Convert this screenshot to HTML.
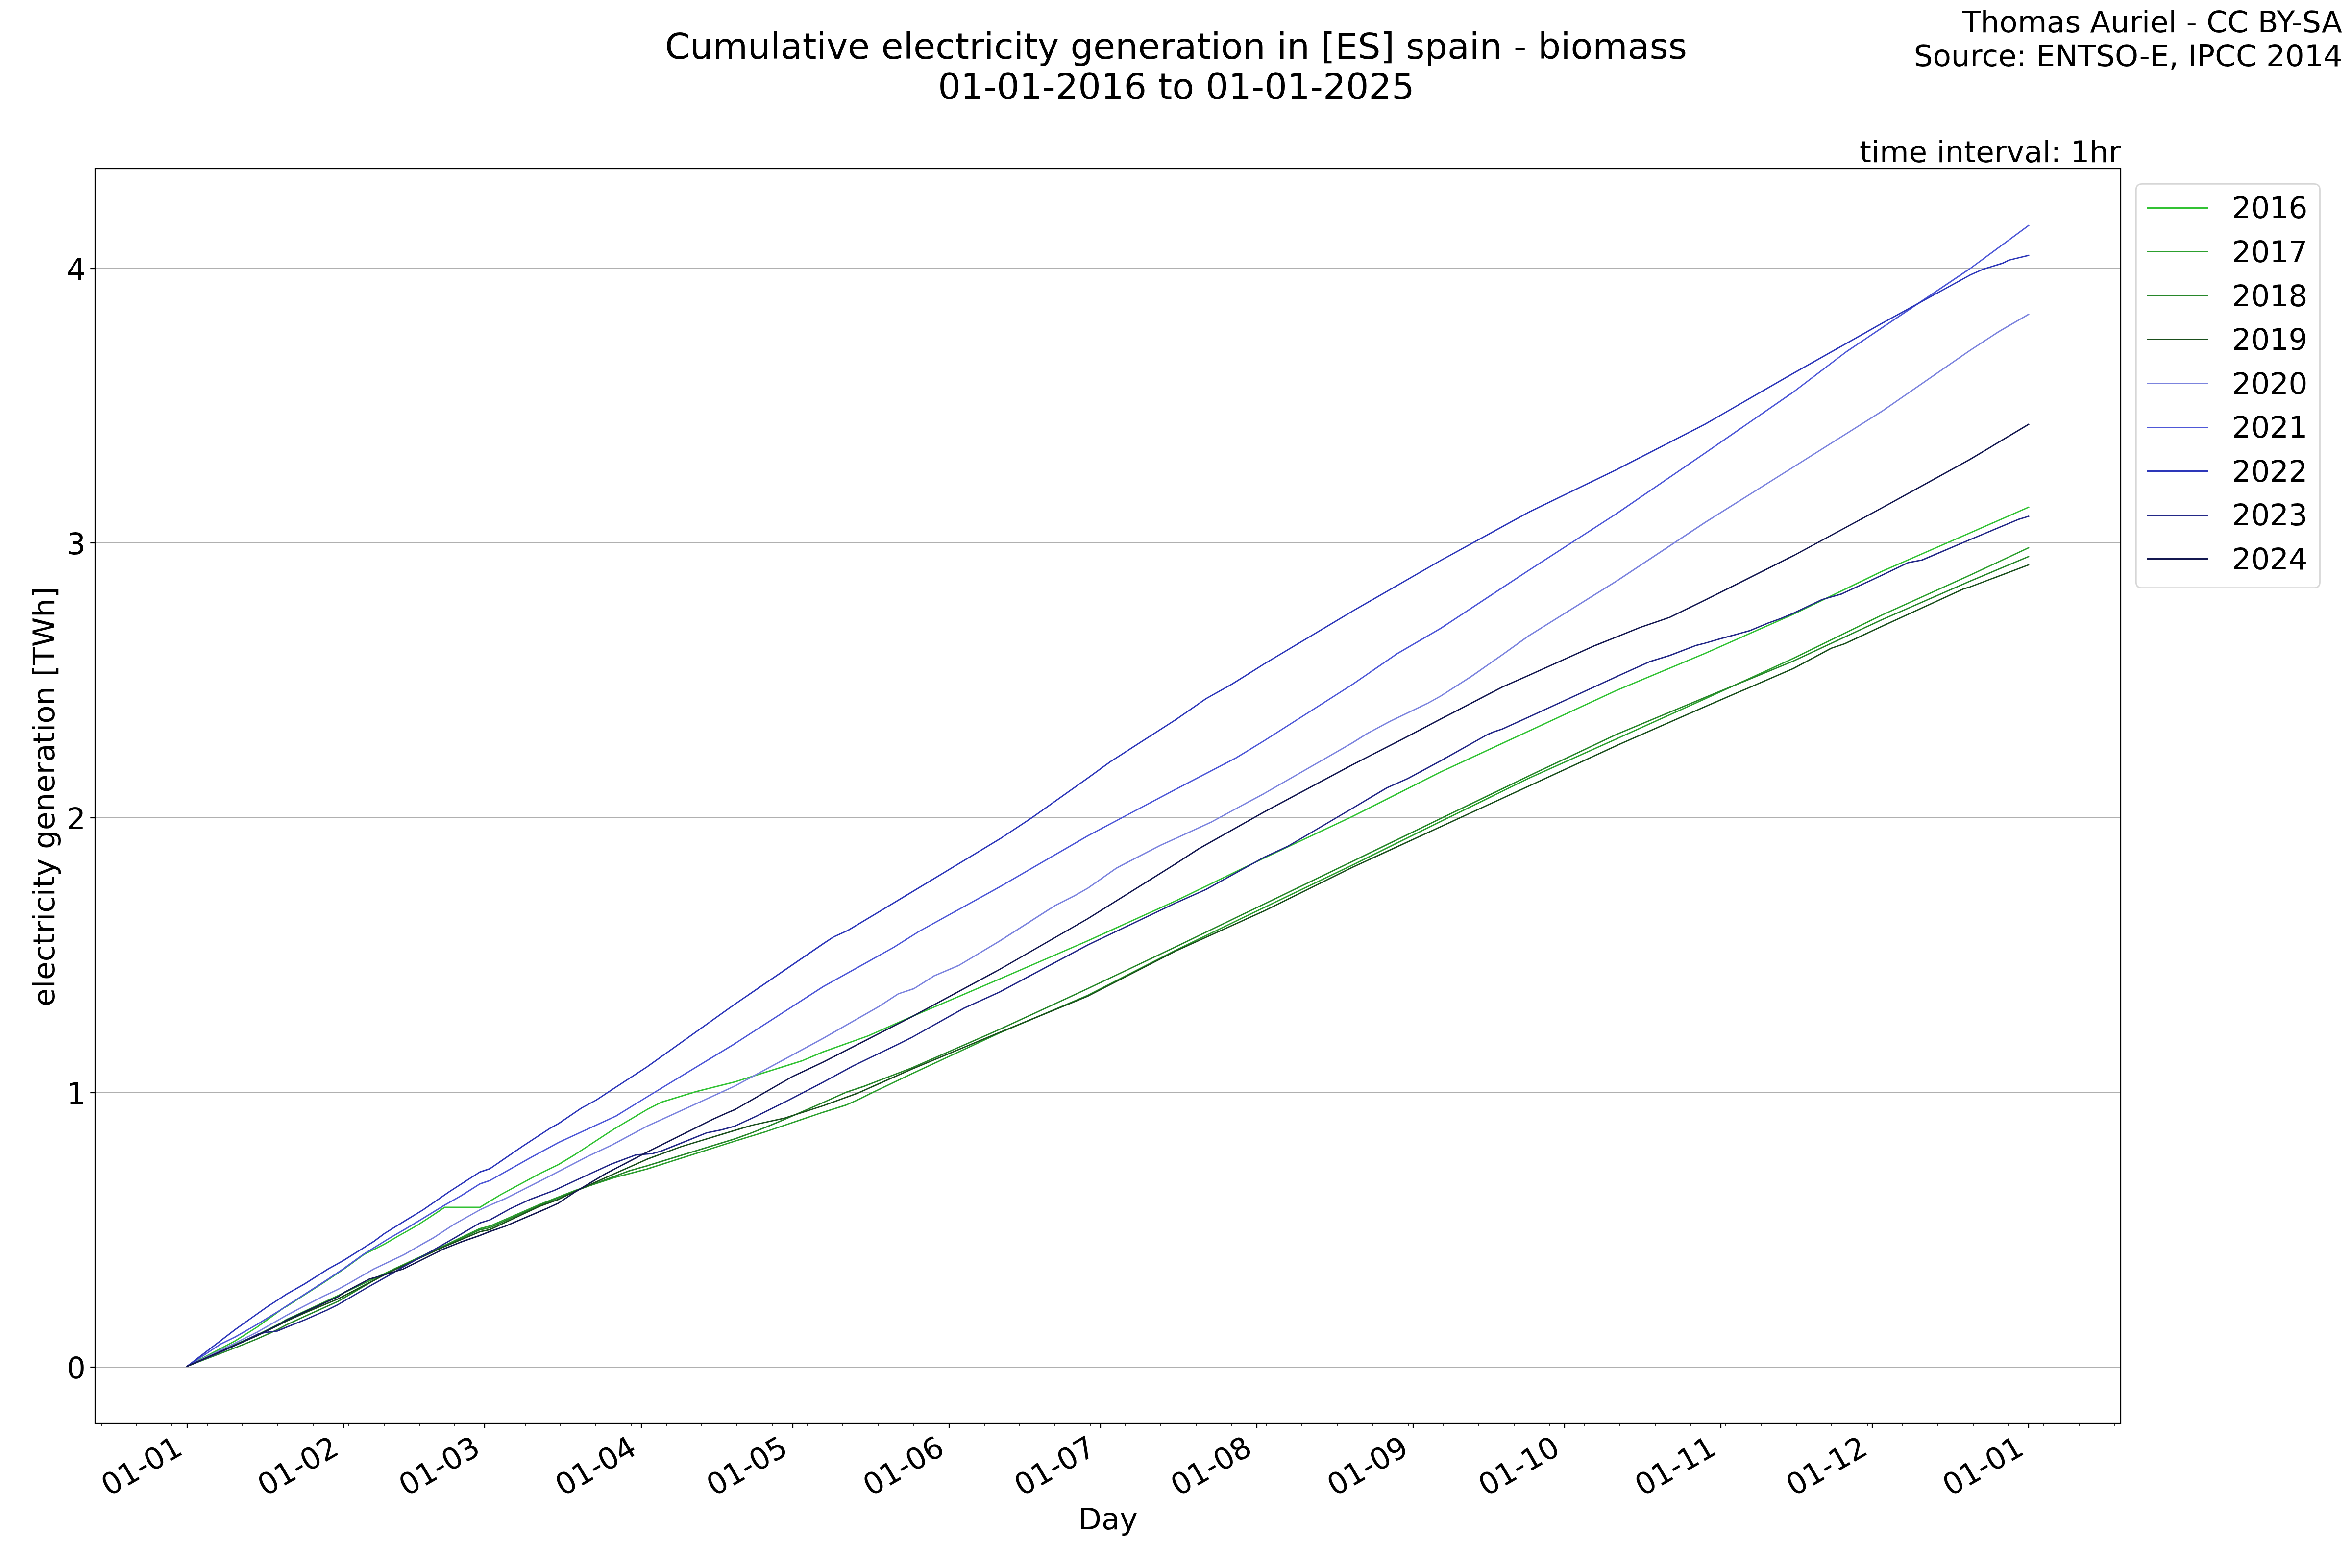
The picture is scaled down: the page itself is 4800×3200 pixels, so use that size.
<!DOCTYPE html>
<html lang="en"><head><meta charset="utf-8"><title>Cumulative electricity generation in [ES] spain - biomass</title>
<style>html,body{margin:0;padding:0;background:#fff;width:4800px;height:3200px;overflow:hidden}svg{display:block}text{font-family:"DejaVu Sans", "Liberation Sans", sans-serif;fill:#000}</style>
</head><body>
<svg width="4800" height="3200" viewBox="0 0 4800 3200">
<rect x="0" y="0" width="4800" height="3200" fill="#ffffff"/>
<g stroke="#b0b0b0" stroke-width="2.222">
<line x1="194.00" x2="4328.00" y1="2790.00" y2="2790.00"/>
<line x1="194.00" x2="4328.00" y1="2230.00" y2="2230.00"/>
<line x1="194.00" x2="4328.00" y1="1669.00" y2="1669.00"/>
<line x1="194.00" x2="4328.00" y1="1108.00" y2="1108.00"/>
<line x1="194.00" x2="4328.00" y1="548.00" y2="548.00"/>
</g>
<g fill="none" stroke-width="2.78" stroke-linejoin="round" stroke-linecap="square">
<path d="M381.9 2788.3 L480.0 2736.5 L524.6 2708.4 L560.4 2682.5 L578.2 2669.6 L585.0 2666.0 L613.9 2647.3 L655.0 2621.0 L670.0 2611.3 L700.0 2591.0 L742.1 2560.6 L784.2 2539.2 L814.8 2521.4 L827.6 2514.4 L853.1 2499.7 L878.6 2483.1 L907.3 2464.0 L979.3 2464.0 L1000.0 2451.2 L1021.2 2438.4 L1100.8 2395.5 L1140.0 2376.5 L1174.3 2355.7 L1253.9 2303.7 L1320.0 2264.6 L1350.6 2249.1 L1421.0 2227.7 L1500.0 2207.8 L1638.4 2164.3 L1680.0 2146.6 L1771.8 2114.0 L1860.0 2075.1 L2040.0 1998.0 L2220.0 1920.0 L2400.0 1838.3 L2580.0 1750.9 L2760.0 1666.3 L2940.0 1575.6 L3120.0 1491.9 L3300.0 1408.6 L3480.0 1333.2 L3660.0 1253.5 L3840.0 1166.3 L4020.0 1087.8 L4140.0 1035.1" stroke="#32c234"/>
<path d="M381.9 2788.3 L480.0 2743.7 L524.6 2724.5 L569.3 2702.1 L585.0 2692.8 L622.9 2675.4 L690.0 2644.1 L780.0 2601.5 L805.9 2589.0 L904.1 2543.3 L979.3 2507.3 L1000.0 2502.2 L1100.8 2458.3 L1174.3 2429.2 L1253.9 2403.2 L1320.0 2385.8 L1500.0 2328.7 L1564.9 2308.8 L1680.0 2269.8 L1725.9 2255.4 L1753.5 2243.2 L1781.0 2229.4 L1860.0 2191.7 L2040.0 2108.0 L2220.0 2031.3 L2400.0 1938.9 L2580.0 1851.9 L2760.0 1765.4 L2940.0 1676.6 L3120.0 1588.2 L3300.0 1507.4 L3480.0 1426.0 L3660.0 1343.5 L3840.0 1255.5 L4020.0 1174.1 L4140.0 1117.8" stroke="#2ca02e"/>
<path d="M381.9 2788.3 L480.0 2750.5 L524.6 2732.5 L551.4 2720.4 L565.7 2713.8 L585.0 2703.5 L622.9 2686.1 L690.0 2655.7 L780.0 2603.0 L805.9 2590.0 L904.1 2544.3 L979.3 2509.8 L1000.0 2505.5 L1100.8 2460.0 L1174.3 2430.5 L1284.5 2389.4 L1320.0 2379.4 L1500.0 2324.1 L1534.3 2311.8 L1564.9 2299.6 L1601.6 2284.3 L1680.0 2250.1 L1725.9 2229.4 L1762.7 2217.1 L1860.0 2179.8 L2040.0 2100.8 L2220.0 2017.6 L2400.0 1932.1 L2580.0 1844.9 L2760.0 1757.9 L2940.0 1670.5 L3120.0 1583.6 L3300.0 1498.3 L3480.0 1423.3 L3660.0 1349.0 L3840.0 1265.0 L4020.0 1186.3 L4140.0 1135.8" stroke="#27872a"/>
<path d="M381.9 2788.3 L480.0 2745.5 L524.6 2726.0 L569.3 2704.0 L585.0 2695.9 L622.9 2678.9 L690.0 2650.8 L780.0 2604.0 L805.9 2591.0 L904.1 2545.3 L979.3 2513.7 L1000.0 2509.3 L1100.8 2462.0 L1140.0 2447.6 L1174.3 2431.0 L1320.0 2365.9 L1390.4 2340.0 L1491.4 2309.4 L1534.3 2296.5 L1601.6 2281.8 L1680.0 2256.5 L1750.4 2230.9 L1860.0 2182.2 L2040.0 2107.0 L2220.0 2032.9 L2400.0 1940.4 L2580.0 1859.0 L2760.0 1770.0 L2940.0 1687.3 L3120.0 1604.3 L3300.0 1521.2 L3480.0 1442.0 L3660.0 1364.3 L3737.1 1323.0 L3764.7 1313.8 L3840.0 1278.5 L4006.8 1201.9 L4020.0 1198.0 L4140.0 1152.7" stroke="#1b4f1d"/>
<path d="M381.9 2788.3 L480.0 2741.0 L524.6 2718.7 L569.3 2693.2 L585.0 2684.3 L613.9 2669.1 L658.6 2645.9 L690.0 2631.2 L713.3 2618.4 L762.5 2590.0 L825.0 2560.3 L863.3 2538.0 L886.2 2525.2 L927.0 2498.4 L979.3 2469.1 L1000.0 2459.5 L1033.5 2445.1 L1113.1 2404.7 L1198.8 2360.3 L1247.8 2337.3 L1320.0 2298.6 L1500.0 2216.3 L1680.0 2119.0 L1793.3 2054.3 L1833.1 2028.3 L1865.2 2017.6 L1906.5 1991.5 L1957.0 1970.1 L2040.0 1920.5 L2153.3 1848.0 L2193.0 1828.0 L2220.0 1812.6 L2278.8 1771.4 L2367.5 1725.5 L2400.0 1710.8 L2473.5 1676.9 L2543.9 1638.7 L2580.0 1619.4 L2760.0 1516.0 L2790.6 1496.8 L2836.5 1472.3 L2913.0 1435.6 L2940.0 1420.6 L3004.9 1379.0 L3066.1 1336.1 L3120.0 1297.5 L3300.0 1185.3 L3480.0 1066.0 L3660.0 953.1 L3840.0 839.8 L4020.0 715.3 L4078.8 677.0 L4140.0 641.5" stroke="#7c84de"/>
<path d="M381.9 2788.3 L449.7 2743.3 L480.0 2728.5 L524.6 2703.0 L569.3 2675.4 L585.0 2665.1 L613.9 2646.3 L655.0 2620.0 L670.0 2610.2 L700.0 2590.0 L742.1 2559.6 L794.4 2527.1 L827.6 2508.0 L858.2 2489.5 L907.3 2459.5 L939.8 2441.0 L960.2 2428.3 L979.3 2416.1 L1000.0 2409.1 L1082.4 2362.8 L1140.6 2331.2 L1256.9 2277.7 L1320.0 2238.9 L1500.0 2129.7 L1680.0 2013.5 L1823.9 1933.4 L1875.9 1900.6 L2040.0 1810.0 L2220.0 1705.7 L2400.0 1610.4 L2522.4 1546.8 L2580.0 1511.6 L2760.0 1396.9 L2851.8 1333.7 L2940.0 1282.5 L3120.0 1163.8 L3300.0 1047.6 L3480.0 924.4 L3660.0 800.0 L3767.8 718.0 L3840.0 669.5 L4020.0 548.5 L4140.0 460.3" stroke="#4e58d7"/>
<path d="M381.9 2788.3 L480.0 2713.3 L524.6 2681.6 L546.1 2666.4 L569.3 2651.3 L585.0 2641.0 L622.0 2620.0 L670.0 2589.5 L700.0 2573.0 L763.8 2532.9 L784.2 2517.6 L827.6 2490.8 L863.3 2469.1 L916.8 2432.1 L979.3 2391.9 L999.8 2385.1 L1067.1 2338.9 L1122.2 2302.8 L1140.0 2293.0 L1186.5 2261.4 L1217.1 2244.9 L1241.6 2228.7 L1320.0 2177.6 L1500.0 2049.2 L1680.0 1926.0 L1701.4 1911.9 L1730.5 1898.8 L1860.0 1821.0 L2040.0 1712.3 L2105.8 1668.9 L2220.0 1587.8 L2266.5 1554.1 L2400.0 1468.3 L2461.2 1425.9 L2513.3 1396.8 L2580.0 1354.9 L2760.0 1247.4 L2940.0 1143.9 L3120.0 1045.2 L3300.0 957.9 L3480.0 865.5 L3660.0 761.7 L3840.0 660.3 L4020.0 561.6 L4048.2 549.1 L4088.0 536.8 L4099.6 531.0 L4140.0 521.2" stroke="#2d37b9"/>
<path d="M381.9 2788.3 L441.7 2763.0 L480.0 2745.8 L528.2 2721.8 L542.5 2719.1 L565.7 2716.4 L585.0 2708.4 L622.9 2693.2 L667.5 2673.6 L690.0 2662.4 L746.9 2629.1 L795.9 2601.5 L814.8 2590.0 L878.6 2554.5 L929.6 2525.2 L979.3 2495.9 L1000.0 2489.5 L1042.7 2465.9 L1082.4 2447.6 L1131.4 2429.2 L1174.3 2409.3 L1247.8 2375.6 L1296.7 2357.2 L1320.0 2355.0 L1332.2 2354.1 L1350.6 2348.6 L1411.8 2324.1 L1442.4 2311.8 L1473.1 2305.7 L1500.0 2298.1 L1546.5 2276.6 L1607.8 2246.0 L1680.0 2208.6 L1741.2 2175.2 L1833.1 2131.1 L1860.0 2117.6 L1967.8 2057.3 L2040.0 2024.6 L2220.0 1928.5 L2400.0 1842.5 L2461.2 1815.2 L2580.0 1749.4 L2629.6 1726.4 L2760.0 1649.6 L2830.4 1607.8 L2873.3 1588.8 L2940.0 1552.7 L3035.5 1499.1 L3047.8 1493.9 L3066.1 1487.8 L3120.0 1463.3 L3300.0 1380.4 L3368.0 1349.8 L3407.8 1337.6 L3459.8 1317.7 L3480.0 1312.5 L3510.6 1303.7 L3541.2 1295.4 L3571.8 1286.8 L3608.6 1271.5 L3633.1 1262.7 L3660.0 1251.6 L3718.8 1223.5 L3758.6 1212.1 L3840.0 1174.3 L3893.6 1148.4 L3922.7 1142.9 L4020.0 1101.5 L4118.6 1060.2 L4130.8 1056.5 L4140.0 1053.5" stroke="#232887"/>
<path d="M381.9 2788.3 L480.0 2745.0 L524.6 2725.5 L569.3 2703.1 L585.0 2694.1 L622.9 2676.8 L690.0 2646.3 L701.0 2638.3 L753.1 2610.7 L789.8 2600.0 L822.4 2590.0 L904.1 2549.4 L942.3 2534.1 L979.3 2521.4 L1000.0 2513.1 L1030.4 2502.7 L1113.1 2467.4 L1140.0 2455.2 L1174.3 2432.2 L1235.5 2395.5 L1320.0 2351.6 L1454.7 2284.3 L1485.3 2270.5 L1500.0 2264.4 L1618.5 2196.4 L1680.0 2167.5 L1860.0 2075.5 L2040.0 1978.4 L2220.0 1874.9 L2400.0 1762.4 L2445.9 1732.5 L2580.0 1657.0 L2760.0 1560.7 L2861.0 1509.0 L2940.0 1467.6 L2998.8 1437.1 L3066.1 1401.9 L3120.0 1378.3 L3254.7 1317.6 L3300.0 1299.5 L3346.5 1280.8 L3407.8 1259.8 L3480.0 1224.6 L3660.0 1134.1 L3840.0 1036.9 L4020.0 937.8 L4140.0 866.0" stroke="#141850"/>
</g>
<g stroke="#000" stroke-width="2.222">
<line x1="184.28" x2="194.00" y1="2790.00" y2="2790.00"/>
<line x1="184.28" x2="194.00" y1="2230.00" y2="2230.00"/>
<line x1="184.28" x2="194.00" y1="1669.00" y2="1669.00"/>
<line x1="184.28" x2="194.00" y1="1108.00" y2="1108.00"/>
<line x1="184.28" x2="194.00" y1="548.00" y2="548.00"/>
<line x1="382.00" x2="382.00" y1="2905.00" y2="2914.72"/>
<line x1="701.00" x2="701.00" y1="2905.00" y2="2914.72"/>
<line x1="989.00" x2="989.00" y1="2905.00" y2="2914.72"/>
<line x1="1309.00" x2="1309.00" y1="2905.00" y2="2914.72"/>
<line x1="1618.00" x2="1618.00" y1="2905.00" y2="2914.72"/>
<line x1="1937.00" x2="1937.00" y1="2905.00" y2="2914.72"/>
<line x1="2246.00" x2="2246.00" y1="2905.00" y2="2914.72"/>
<line x1="2565.00" x2="2565.00" y1="2905.00" y2="2914.72"/>
<line x1="2884.00" x2="2884.00" y1="2905.00" y2="2914.72"/>
<line x1="3193.00" x2="3193.00" y1="2905.00" y2="2914.72"/>
<line x1="3512.00" x2="3512.00" y1="2905.00" y2="2914.72"/>
<line x1="3821.00" x2="3821.00" y1="2905.00" y2="2914.72"/>
<line x1="4140.00" x2="4140.00" y1="2905.00" y2="2914.72"/>
</g>
<g stroke="#000" stroke-width="1.667">
<line x1="207.00" x2="207.00" y1="2905.00" y2="2910.56"/>
<line x1="279.00" x2="279.00" y1="2905.00" y2="2910.56"/>
<line x1="351.00" x2="351.00" y1="2905.00" y2="2910.56"/>
<line x1="423.00" x2="423.00" y1="2905.00" y2="2910.56"/>
<line x1="495.00" x2="495.00" y1="2905.00" y2="2910.56"/>
<line x1="567.00" x2="567.00" y1="2905.00" y2="2910.56"/>
<line x1="639.00" x2="639.00" y1="2905.00" y2="2910.56"/>
<line x1="711.00" x2="711.00" y1="2905.00" y2="2910.56"/>
<line x1="784.00" x2="784.00" y1="2905.00" y2="2910.56"/>
<line x1="856.00" x2="856.00" y1="2905.00" y2="2910.56"/>
<line x1="928.00" x2="928.00" y1="2905.00" y2="2910.56"/>
<line x1="1000.00" x2="1000.00" y1="2905.00" y2="2910.56"/>
<line x1="1072.00" x2="1072.00" y1="2905.00" y2="2910.56"/>
<line x1="1144.00" x2="1144.00" y1="2905.00" y2="2910.56"/>
<line x1="1216.00" x2="1216.00" y1="2905.00" y2="2910.56"/>
<line x1="1288.00" x2="1288.00" y1="2905.00" y2="2910.56"/>
<line x1="1360.00" x2="1360.00" y1="2905.00" y2="2910.56"/>
<line x1="1432.00" x2="1432.00" y1="2905.00" y2="2910.56"/>
<line x1="1504.00" x2="1504.00" y1="2905.00" y2="2910.56"/>
<line x1="1576.00" x2="1576.00" y1="2905.00" y2="2910.56"/>
<line x1="1648.00" x2="1648.00" y1="2905.00" y2="2910.56"/>
<line x1="1720.00" x2="1720.00" y1="2905.00" y2="2910.56"/>
<line x1="1793.00" x2="1793.00" y1="2905.00" y2="2910.56"/>
<line x1="1865.00" x2="1865.00" y1="2905.00" y2="2910.56"/>
<line x1="1937.00" x2="1937.00" y1="2905.00" y2="2910.56"/>
<line x1="2009.00" x2="2009.00" y1="2905.00" y2="2910.56"/>
<line x1="2081.00" x2="2081.00" y1="2905.00" y2="2910.56"/>
<line x1="2153.00" x2="2153.00" y1="2905.00" y2="2910.56"/>
<line x1="2225.00" x2="2225.00" y1="2905.00" y2="2910.56"/>
<line x1="2297.00" x2="2297.00" y1="2905.00" y2="2910.56"/>
<line x1="2369.00" x2="2369.00" y1="2905.00" y2="2910.56"/>
<line x1="2441.00" x2="2441.00" y1="2905.00" y2="2910.56"/>
<line x1="2513.00" x2="2513.00" y1="2905.00" y2="2910.56"/>
<line x1="2585.00" x2="2585.00" y1="2905.00" y2="2910.56"/>
<line x1="2657.00" x2="2657.00" y1="2905.00" y2="2910.56"/>
<line x1="2729.00" x2="2729.00" y1="2905.00" y2="2910.56"/>
<line x1="2802.00" x2="2802.00" y1="2905.00" y2="2910.56"/>
<line x1="2874.00" x2="2874.00" y1="2905.00" y2="2910.56"/>
<line x1="2946.00" x2="2946.00" y1="2905.00" y2="2910.56"/>
<line x1="3018.00" x2="3018.00" y1="2905.00" y2="2910.56"/>
<line x1="3090.00" x2="3090.00" y1="2905.00" y2="2910.56"/>
<line x1="3162.00" x2="3162.00" y1="2905.00" y2="2910.56"/>
<line x1="3234.00" x2="3234.00" y1="2905.00" y2="2910.56"/>
<line x1="3306.00" x2="3306.00" y1="2905.00" y2="2910.56"/>
<line x1="3378.00" x2="3378.00" y1="2905.00" y2="2910.56"/>
<line x1="3450.00" x2="3450.00" y1="2905.00" y2="2910.56"/>
<line x1="3522.00" x2="3522.00" y1="2905.00" y2="2910.56"/>
<line x1="3594.00" x2="3594.00" y1="2905.00" y2="2910.56"/>
<line x1="3666.00" x2="3666.00" y1="2905.00" y2="2910.56"/>
<line x1="3738.00" x2="3738.00" y1="2905.00" y2="2910.56"/>
<line x1="3811.00" x2="3811.00" y1="2905.00" y2="2910.56"/>
<line x1="3883.00" x2="3883.00" y1="2905.00" y2="2910.56"/>
<line x1="3955.00" x2="3955.00" y1="2905.00" y2="2910.56"/>
<line x1="4027.00" x2="4027.00" y1="2905.00" y2="2910.56"/>
<line x1="4099.00" x2="4099.00" y1="2905.00" y2="2910.56"/>
<line x1="4171.00" x2="4171.00" y1="2905.00" y2="2910.56"/>
<line x1="4243.00" x2="4243.00" y1="2905.00" y2="2910.56"/>
<line x1="4315.00" x2="4315.00" y1="2905.00" y2="2910.56"/>
</g>
<rect x="194.00" y="344.00" width="4134.00" height="2561.00" fill="none" stroke="#000" stroke-width="2.222" stroke-linejoin="miter"/>
<text x="174.96" y="2813.30" font-size="61.11" text-anchor="end">0</text>
<text x="174.96" y="2253.30" font-size="61.11" text-anchor="end">1</text>
<text x="174.96" y="1692.30" font-size="61.11" text-anchor="end">2</text>
<text x="174.96" y="1131.30" font-size="61.11" text-anchor="end">3</text>
<text x="174.96" y="571.30" font-size="61.11" text-anchor="end">4</text>
<text transform="translate(222.50 3054.60) rotate(-30)" font-size="61.11">01-01</text>
<text transform="translate(541.67 3054.60) rotate(-30)" font-size="61.11">01-02</text>
<text transform="translate(829.96 3054.60) rotate(-30)" font-size="61.11">01-03</text>
<text transform="translate(1149.13 3054.60) rotate(-30)" font-size="61.11">01-04</text>
<text transform="translate(1458.01 3054.60) rotate(-30)" font-size="61.11">01-05</text>
<text transform="translate(1777.18 3054.60) rotate(-30)" font-size="61.11">01-06</text>
<text transform="translate(2086.06 3054.60) rotate(-30)" font-size="61.11">01-07</text>
<text transform="translate(2405.23 3054.60) rotate(-30)" font-size="61.11">01-08</text>
<text transform="translate(2724.40 3054.60) rotate(-30)" font-size="61.11">01-09</text>
<text transform="translate(3033.28 3054.60) rotate(-30)" font-size="61.11">01-10</text>
<text transform="translate(3352.45 3054.60) rotate(-30)" font-size="61.11">01-11</text>
<text transform="translate(3661.33 3054.60) rotate(-30)" font-size="61.11">01-12</text>
<text transform="translate(3980.50 3054.60) rotate(-30)" font-size="61.11">01-01</text>
<text x="2261.30" y="3120.80" font-size="61.11" text-anchor="middle">Day</text>
<text transform="translate(111.20 1625.80) rotate(-90)" font-size="61.11" text-anchor="middle" textLength="857.1" lengthAdjust="spacing">electricity generation [TWh]</text>
<text x="2400" y="119.6" font-size="73.27" text-anchor="middle">Cumulative electricity generation in [ES] spain - biomass</text>
<text x="2400.4" y="202.1" font-size="73.33" text-anchor="middle">01-01-2016 to 01-01-2025</text>
<text x="4779.9" y="66.4" font-size="61.11" text-anchor="end" textLength="775.5" lengthAdjust="spacing">Thomas Auriel - CC BY-SA</text>
<text x="4780.5" y="134.6" font-size="61.11" text-anchor="end">Source: ENTSO-E, IPCC 2014</text>
<text x="4328.20" y="330.6" font-size="61.11" text-anchor="end">time interval: 1hr</text>
<path d="M4371.52 375.30 L4722.28 375.30 Q4734.50 375.30 4734.50 387.52 L4734.50 1187.38 Q4734.50 1199.60 4722.28 1199.60 L4371.52 1199.60 Q4359.30 1199.60 4359.30 1187.38 L4359.30 387.52 Q4359.30 375.30 4371.52 375.30 Z" fill="#ffffff" fill-opacity="0.8" stroke="#cccccc" stroke-opacity="0.8" stroke-width="2.78"/>
<line x1="4383.4" x2="4505.6" y1="424.50" y2="424.50" stroke="#32c234" stroke-width="2.78" stroke-linecap="square"/>
<text x="4555.0" y="445.40" font-size="61.11" textLength="154.4" lengthAdjust="spacing">2016</text>
<line x1="4383.4" x2="4505.6" y1="513.50" y2="513.50" stroke="#2ca02e" stroke-width="2.78" stroke-linecap="square"/>
<text x="4555.0" y="534.97" font-size="61.11" textLength="154.4" lengthAdjust="spacing">2017</text>
<line x1="4383.4" x2="4505.6" y1="603.50" y2="603.50" stroke="#27872a" stroke-width="2.78" stroke-linecap="square"/>
<text x="4555.0" y="624.54" font-size="61.11" textLength="154.4" lengthAdjust="spacing">2018</text>
<line x1="4383.4" x2="4505.6" y1="692.50" y2="692.50" stroke="#1b4f1d" stroke-width="2.78" stroke-linecap="square"/>
<text x="4555.0" y="714.11" font-size="61.11" textLength="154.4" lengthAdjust="spacing">2019</text>
<line x1="4383.4" x2="4505.6" y1="782.50" y2="782.50" stroke="#7c84de" stroke-width="2.78" stroke-linecap="square"/>
<text x="4555.0" y="803.68" font-size="61.11" textLength="154.4" lengthAdjust="spacing">2020</text>
<line x1="4383.4" x2="4505.6" y1="872.50" y2="872.50" stroke="#4e58d7" stroke-width="2.78" stroke-linecap="square"/>
<text x="4555.0" y="893.25" font-size="61.11" textLength="154.4" lengthAdjust="spacing">2021</text>
<line x1="4383.4" x2="4505.6" y1="961.50" y2="961.50" stroke="#2d37b9" stroke-width="2.78" stroke-linecap="square"/>
<text x="4555.0" y="982.82" font-size="61.11" textLength="154.4" lengthAdjust="spacing">2022</text>
<line x1="4383.4" x2="4505.6" y1="1051.50" y2="1051.50" stroke="#232887" stroke-width="2.78" stroke-linecap="square"/>
<text x="4555.0" y="1072.39" font-size="61.11" textLength="154.4" lengthAdjust="spacing">2023</text>
<line x1="4383.4" x2="4505.6" y1="1140.50" y2="1140.50" stroke="#141850" stroke-width="2.78" stroke-linecap="square"/>
<text x="4555.0" y="1161.96" font-size="61.11" textLength="154.4" lengthAdjust="spacing">2024</text>
</svg>
</body></html>
